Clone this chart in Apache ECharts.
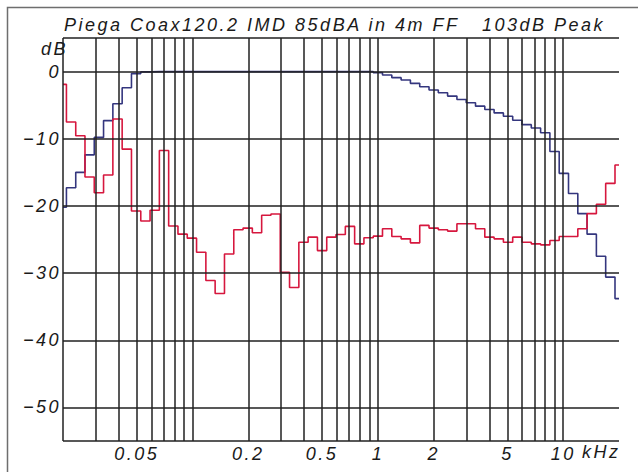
<!DOCTYPE html>
<html>
<head>
<meta charset="utf-8">
<script src="https://cdn.jsdelivr.net/npm/echarts@6.0.0/dist/echarts.min.js"></script>
<style>
  html, body { margin: 0; padding: 0; background: #ffffff; }
  #main { width: 638px; height: 472px; }
  #main text { letter-spacing: 2.5px; }
</style>
</head>
<body>
<div id="main"></div>
<script>
// 1/6-octave band edges (kHz), plus plot limits
const bandEdges = [0.02, 0.02087, 0.02343, 0.02628, 0.02949, 0.03310, 0.03716, 0.04171, 0.04682, 0.05256,
  0.05899, 0.06622, 0.07433, 0.08343, 0.09364, 0.1051, 0.1180, 0.1324, 0.1487, 0.1669,
  0.1873, 0.2102, 0.2360, 0.2649, 0.2973, 0.3337, 0.3746, 0.4204, 0.4719, 0.5297,
  0.5946, 0.6674, 0.7492, 0.8409, 0.9439, 1.059, 1.189, 1.335, 1.498, 1.682,
  1.888, 2.119, 2.378, 2.670, 2.997, 3.364, 3.775, 4.238, 4.757, 5.339,
  5.993, 6.727, 7.551, 8.476, 9.514, 10.68, 11.99, 13.45, 15.10, 16.95,
  19.03, 20];

// blue curve (dB) per band
const blueDB = [-20.2, -17.3, -15.0, -12.4, -9.8, -7.3, -4.8, -2.4, -0.3, -0.05,
  0, 0, 0, 0, 0, 0, 0, 0, 0, 0,
  0, 0, 0, 0, 0, 0, 0, 0, 0, 0,
  0, 0, 0, 0, -0.15, -0.5, -0.9, -1.25, -1.75, -2.25,
  -2.75, -3.15, -3.65, -4.15, -4.65, -5.15, -5.65, -6.15, -6.65, -7.25,
  -7.9, -8.4, -9.1, -11.9, -15.15, -18.15, -21.15, -24.2, -27.5, -30.6,
  -33.8];

// red curve (dB) per band
const redDB = [-1.9, -7.5, -9.55, -15.7, -18.05, -15.4, -7.05, -11.55, -20.75, -22.25,
  -20.65, -11.75, -23.0, -24.2, -24.8, -26.9, -31.1, -33.05, -27.15, -23.55,
  -23.3, -24.0, -21.4, -21.2, -29.9, -32.15, -25.4, -24.65, -26.65, -24.65,
  -24.25, -23.05, -25.65, -24.75, -24.5, -23.4, -24.55, -24.9, -25.5, -22.9,
  -23.3, -23.55, -23.75, -22.65, -22.65, -23.4, -24.65, -24.9, -25.4, -24.65,
  -25.4, -25.65, -25.8, -25.15, -24.55, -24.55, -23.4, -21.15, -19.75, -16.65,
  -13.9];

const xGridFreqs = [0.02, 0.03, 0.04, 0.05, 0.06, 0.07, 0.08, 0.09, 0.1,
  0.2, 0.3, 0.4, 0.5, 0.6, 0.7, 0.8, 0.9, 1,
  2, 3, 4, 5, 6, 7, 8, 9, 10];
const yGridLevels = [5, 0, -10, -20, -30, -40, -50, -55];
const xTickLabels = [0.05, 0.2, 0.5, 1, 2, 5, 10];
const yTickLabels = [0, -10, -20, -30, -40, -50];
const titleText = 'Piega Coax120.2 IMD 85dBA in 4m FF\u00a0\u00a0\u00a0103dB Peak';

function stepData(vals) {
  const d = vals.map((v, i) => [bandEdges[i], v]);
  d.push([bandEdges[bandEdges.length - 1], vals[vals.length - 1]]);
  return d;
}

const FONT = 'Liberation Sans';
const TXT = '#1a1a1a';
const GRIDC = '#202020';

const chart = echarts.init(document.getElementById('main'), null, { renderer: 'svg' });
chart.setOption({
  animation: false,
  backgroundColor: '#ffffff',
  title: {
    text: titleText,
    left: 59, top: 11,
    textStyle: { fontFamily: FONT, fontStyle: 'italic', fontWeight: 'normal', fontSize: 18, color: TXT }
  },
  grid: { left: 63, right: 19, top: 38, bottom: 31, containLabel: false },
  xAxis: {
    type: 'log', logBase: 10, min: 0.02, max: 20,
    axisLine: { show: false }, axisTick: { show: false }, splitLine: { show: false }, minorSplitLine: { show: false },
    axisLabel: {
      customValues: xTickLabels,
      margin: 4,
      formatter: v => String(+(+v).toPrecision(3)),
      fontFamily: FONT, fontStyle: 'italic', fontSize: 18, color: TXT,
      showMinLabel: true, showMaxLabel: true, hideOverlap: false
    }
  },
  yAxis: {
    type: 'value', min: -55, max: 5,
    axisLine: { show: false }, axisTick: { show: false }, splitLine: { show: false },
    axisLabel: {
      customValues: yTickLabels,
      margin: 2,
      formatter: v => (v < 0 ? '\u2212' + (-v) : String(v)),
      fontFamily: FONT, fontStyle: 'italic', fontSize: 18, color: TXT
    }
  },
  graphic: [
    { type: 'rect', silent: true, z: -10, shape: { x: 7.5, y: 7.5, width: 700, height: 520 },
      style: { fill: 'none', stroke: '#6e6e6e', lineWidth: 1.5 } },
    { type: 'text', right: 575, top: 40, silent: true,
      style: { text: 'dB', font: 'italic 18px "Liberation Sans"', fill: TXT } },
    { type: 'text', left: 582, top: 443, silent: true,
      style: { text: 'kHz', font: 'italic 18px "Liberation Sans"', fill: TXT } }
  ],
  series: [
    {
      type: 'line', data: [], z: 1, silent: true,
      markLine: {
        silent: true, symbol: ['none', 'none'], label: { show: false }, animation: false,
        lineStyle: { color: GRIDC, width: 1.5, type: 'solid' },
        emphasis: { disabled: true },
        data: xGridFreqs.map(f => ({ xAxis: f })).concat(yGridLevels.map(l => ({ yAxis: l })))
      }
    },
    {
      name: 'blue', type: 'line', step: 'end', showSymbol: false, z: 3,
      data: stepData(blueDB),
      lineStyle: { color: '#34367e', width: 1.6 }
    },
    {
      name: 'red', type: 'line', step: 'end', showSymbol: false, z: 4,
      data: stepData(redDB),
      lineStyle: { color: '#d6173e', width: 1.6 }
    }
  ]
});
</script>
</body>
</html>
